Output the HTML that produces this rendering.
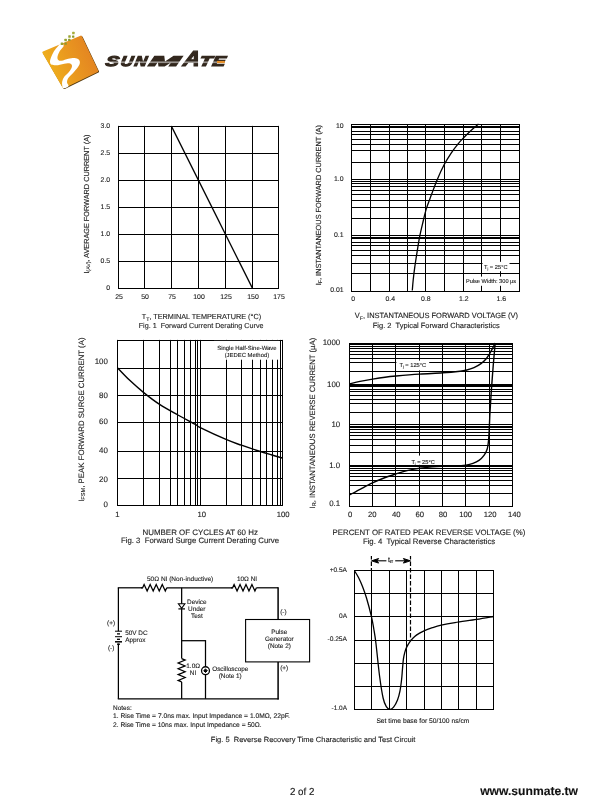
<!DOCTYPE html>
<html lang="en">
<head>
<meta charset="utf-8">
<title>SUNMATE datasheet - page 2 of 2</title>
<style>
html,body{margin:0;padding:0;background:#fff;}
body{width:610px;height:810px;overflow:hidden;position:relative;}
svg{position:absolute;left:0;top:0;display:block;}
svg text{font-family:"Liberation Sans",sans-serif;text-rendering:geometricPrecision;}
svg text.t{stroke:#222;stroke-width:0.12px;}
svg .g line, svg .g path, svg .g rect.o, svg .g polyline{stroke:#000;}
</style>
</head>
<body>
<svg width="610" height="810" viewBox="0 0 610 810">
<defs>
<linearGradient id="lg" gradientUnits="userSpaceOnUse" x1="44" y1="72" x2="98" y2="50">
<stop offset="0" stop-color="#f0b41c"/><stop offset="0.45" stop-color="#ea9a1f"/><stop offset="1" stop-color="#e27f22"/>
</linearGradient>
</defs>
<path d="M44.2 53.2 L81.6 37.3 L98.0 71.6 L64.3 87.9 Z" fill="#54390f" stroke="#54390f" stroke-width="2.2" stroke-linejoin="round"/>
<path d="M43.4 52.5 L80.9 36.7 L97.2 71.0 L63.6 87.2 Z" fill="url(#lg)" stroke="url(#lg)" stroke-width="2.2" stroke-linejoin="round"/>
<path d="M61.16 43.36 C60.25 43.38 59.41 44.62 58.18 46.00 C56.96 47.38 55.06 49.58 53.82 51.62 C52.58 53.67 51.35 56.50 50.72 58.28 C50.09 60.06 49.86 61.21 50.03 62.30 C50.21 63.39 50.43 64.34 51.75 64.82 C53.07 65.30 55.58 65.38 57.95 65.17 C60.32 64.95 63.98 63.85 65.98 63.56 C67.99 63.27 69.01 63.14 70.00 63.44 C71.00 63.75 71.76 64.50 71.95 65.39 C72.14 66.29 71.76 67.61 71.15 68.84 C70.54 70.06 69.43 71.40 68.28 72.74 C67.13 74.08 65.28 75.42 64.26 76.87 C63.25 78.32 62.52 79.97 62.20 81.46 C61.87 82.95 62.14 84.67 62.31 85.82 C62.48 86.97 62.20 88.27 63.23 88.35 C64.26 88.42 67.88 87.24 68.51 86.28 C69.14 85.32 67.06 83.99 67.02 82.61 C66.98 81.23 67.30 79.59 68.28 78.02 C69.26 76.45 71.24 75.03 72.87 73.20 C74.50 71.36 76.87 68.72 78.03 67.00 C79.20 65.28 79.76 64.11 79.87 62.87 C79.99 61.63 79.60 60.35 78.72 59.54 C77.84 58.74 76.33 58.17 74.59 58.05 C72.85 57.94 70.44 58.39 68.28 58.85 C66.12 59.31 63.29 60.61 61.62 60.80 C59.96 61.00 58.98 60.69 58.30 60.00 C57.61 59.31 57.24 58.18 57.49 56.67 C57.74 55.16 58.75 52.73 59.79 50.94 C60.82 49.14 63.46 47.15 63.69 45.89 C63.92 44.62 62.08 43.34 61.16 43.36Z" fill="#fff"/>
<rect x="60.65" y="42.45" width="2.50" height="2.50" rx="0.5" fill="#98a230"/>
<rect x="64.35" y="38.75" width="2.50" height="2.50" rx="0.5" fill="#98a230"/>
<rect x="68.25" y="35.15" width="2.50" height="2.50" rx="0.5" fill="#9ca534"/>
<rect x="72.15" y="31.65" width="2.50" height="2.50" rx="0.5" fill="#a8ad3c"/>
<rect x="64.45" y="42.55" width="2.30" height="2.30" rx="0.5" fill="#8e9a2c"/>
<rect x="68.15" y="38.75" width="2.30" height="2.30" rx="0.5" fill="#8e9a2c"/>
<rect x="72.05" y="35.45" width="2.30" height="2.30" rx="0.5" fill="#8e9a2c"/>
<g transform="translate(0 66.1) skewX(-10) translate(0 -66.1)"><text id="logo" y="66.1" font-weight="bold" font-style="italic" fill="#33281e" stroke="#33281e" stroke-width="1.2" stroke-linejoin="miter"><tspan x="104.9" textLength="13.2" lengthAdjust="spacingAndGlyphs" font-size="14.0">S</tspan><tspan x="120.0" textLength="12.4" lengthAdjust="spacingAndGlyphs" font-size="14.0">U</tspan><tspan x="134.0" textLength="12.2" lengthAdjust="spacingAndGlyphs" font-size="14.0">N</tspan><tspan x="148.2" textLength="31.0" lengthAdjust="spacingAndGlyphs" font-size="14.0">M</tspan><tspan x="182.4" textLength="16.6" lengthAdjust="spacingAndGlyphs" font-size="21.6">A</tspan><tspan x="198.8" textLength="12.4" lengthAdjust="spacingAndGlyphs" font-size="14.0">T</tspan><tspan x="211.8" textLength="13.0" lengthAdjust="spacingAndGlyphs" font-size="14.0">E</tspan></text></g>
<rect x="103" y="61.4" width="114" height="1.7" fill="#fff" opacity="0.5"/>
<rect x="217.0" y="60.9" width="7.8" height="2.2" fill="#e8902a"/>
<g class="g" fill="none">
<line x1="118.50" y1="125.90" x2="118.50" y2="288.90" stroke-width="1.00"/>
<line x1="144.50" y1="125.90" x2="144.50" y2="288.90" stroke-width="1.00"/>
<line x1="171.50" y1="125.90" x2="171.50" y2="288.90" stroke-width="1.00"/>
<line x1="198.50" y1="125.90" x2="198.50" y2="288.90" stroke-width="1.00"/>
<line x1="225.50" y1="125.90" x2="225.50" y2="288.90" stroke-width="1.00"/>
<line x1="252.50" y1="125.90" x2="252.50" y2="288.90" stroke-width="1.00"/>
<line x1="278.50" y1="125.90" x2="278.50" y2="288.90" stroke-width="1.00"/>
<line x1="118.00" y1="126.50" x2="278.90" y2="126.50" stroke-width="1.00"/>
<line x1="118.00" y1="153.50" x2="278.90" y2="153.50" stroke-width="1.00"/>
<line x1="118.00" y1="180.50" x2="278.90" y2="180.50" stroke-width="1.00"/>
<line x1="118.00" y1="207.50" x2="278.90" y2="207.50" stroke-width="1.00"/>
<line x1="118.00" y1="234.50" x2="278.90" y2="234.50" stroke-width="1.00"/>
<line x1="118.00" y1="261.50" x2="278.90" y2="261.50" stroke-width="1.00"/>
<line x1="118.00" y1="288.50" x2="278.90" y2="288.50" stroke-width="1.00"/>
<path d="M171.50 126.40 L252.50 288.40" stroke-width="1.30" fill="none"/>
</g>
<text class="t" id="t1" x="110.20" y="128.00" font-size="6.900" text-anchor="end" fill="#1c1c1c">3.0</text>
<text class="t" id="t2" x="110.20" y="155.00" font-size="6.900" text-anchor="end" fill="#1c1c1c">2.5</text>
<text class="t" id="t3" x="110.20" y="182.00" font-size="6.900" text-anchor="end" fill="#1c1c1c">2.0</text>
<text class="t" id="t4" x="110.20" y="209.00" font-size="6.900" text-anchor="end" fill="#1c1c1c">1.5</text>
<text class="t" id="t5" x="110.20" y="236.00" font-size="6.900" text-anchor="end" fill="#1c1c1c">1.0</text>
<text class="t" id="t6" x="110.20" y="263.00" font-size="6.900" text-anchor="end" fill="#1c1c1c">0.5</text>
<text class="t" id="t7" x="110.20" y="290.00" font-size="6.900" text-anchor="end" fill="#1c1c1c">0</text>
<text class="t" id="t8" x="119.00" y="298.60" font-size="6.900" text-anchor="middle" fill="#1c1c1c">25</text>
<text class="t" id="t9" x="145.00" y="298.60" font-size="6.900" text-anchor="middle" fill="#1c1c1c">50</text>
<text class="t" id="t10" x="172.00" y="298.60" font-size="6.900" text-anchor="middle" fill="#1c1c1c">75</text>
<text class="t" id="t11" x="199.00" y="298.60" font-size="6.900" text-anchor="middle" fill="#1c1c1c">100</text>
<text class="t" id="t12" x="226.00" y="298.60" font-size="6.900" text-anchor="middle" fill="#1c1c1c">125</text>
<text class="t" id="t13" x="253.00" y="298.60" font-size="6.900" text-anchor="middle" fill="#1c1c1c">150</text>
<text class="t" id="t14" x="279.00" y="298.60" font-size="6.900" text-anchor="middle" fill="#1c1c1c">175</text>
<text class="t" id="t15" x="88.60" y="273.60" font-size="7.316" transform="rotate(-90 88.60 273.60)" fill="#1c1c1c">I<tspan dy="1.60" font-size="5.20">(AV)</tspan><tspan dy="-1.60">, AVERAGE FORWARD CURRENT (A)</tspan></text>
<text class="t" id="t16" x="141.80" y="318.90" font-size="7.272" fill="#1c1c1c">T<tspan dy="1.60" font-size="5.20">T</tspan><tspan dy="-1.60">, TERMINAL TEMPERATURE (°C)</tspan></text>
<text class="t" id="t17" x="138.70" y="327.50" font-size="7.216" fill="#1c1c1c" style="white-space:pre">Fig. 1  Forward Current Derating Curve</text>
<g class="g" fill="none">
<line x1="351.50" y1="124.00" x2="351.50" y2="292.00" stroke-width="1.00"/>
<line x1="370.50" y1="124.00" x2="370.50" y2="292.00" stroke-width="1.00"/>
<line x1="389.50" y1="124.00" x2="389.50" y2="292.00" stroke-width="1.00"/>
<line x1="407.50" y1="124.00" x2="407.50" y2="292.00" stroke-width="1.00"/>
<line x1="425.50" y1="124.00" x2="425.50" y2="292.00" stroke-width="1.00"/>
<line x1="444.50" y1="124.00" x2="444.50" y2="292.00" stroke-width="1.00"/>
<line x1="463.50" y1="124.00" x2="463.50" y2="292.00" stroke-width="1.00"/>
<line x1="481.50" y1="124.00" x2="481.50" y2="292.00" stroke-width="1.00"/>
<line x1="500.50" y1="124.00" x2="500.50" y2="292.00" stroke-width="1.00"/>
<line x1="519.50" y1="124.00" x2="519.50" y2="292.00" stroke-width="1.00"/>
<line x1="351.00" y1="124.50" x2="520.00" y2="124.50" stroke-width="1.00"/>
<line x1="351.00" y1="127.00" x2="520.00" y2="127.00" stroke-width="2.00"/>
<line x1="351.00" y1="131.50" x2="520.00" y2="131.50" stroke-width="1.00"/>
<line x1="351.00" y1="134.50" x2="520.00" y2="134.50" stroke-width="1.00"/>
<line x1="351.00" y1="139.50" x2="520.00" y2="139.50" stroke-width="1.00"/>
<line x1="351.00" y1="144.50" x2="520.00" y2="144.50" stroke-width="1.00"/>
<line x1="351.00" y1="150.50" x2="520.00" y2="150.50" stroke-width="1.00"/>
<line x1="351.00" y1="162.50" x2="520.00" y2="162.50" stroke-width="1.00"/>
<line x1="351.00" y1="179.50" x2="520.00" y2="179.50" stroke-width="1.00"/>
<line x1="351.00" y1="181.50" x2="520.00" y2="181.50" stroke-width="1.00"/>
<line x1="351.00" y1="183.50" x2="520.00" y2="183.50" stroke-width="1.00"/>
<line x1="351.00" y1="186.50" x2="520.00" y2="186.50" stroke-width="1.00"/>
<line x1="351.00" y1="190.50" x2="520.00" y2="190.50" stroke-width="1.00"/>
<line x1="351.00" y1="194.50" x2="520.00" y2="194.50" stroke-width="1.00"/>
<line x1="351.00" y1="200.50" x2="520.00" y2="200.50" stroke-width="1.00"/>
<line x1="351.00" y1="207.50" x2="520.00" y2="207.50" stroke-width="1.00"/>
<line x1="351.00" y1="218.50" x2="520.00" y2="218.50" stroke-width="1.00"/>
<line x1="351.00" y1="235.50" x2="520.00" y2="235.50" stroke-width="1.00"/>
<line x1="351.00" y1="238.00" x2="520.00" y2="238.00" stroke-width="2.00"/>
<line x1="351.00" y1="242.50" x2="520.00" y2="242.50" stroke-width="1.00"/>
<line x1="351.00" y1="245.50" x2="520.00" y2="245.50" stroke-width="1.00"/>
<line x1="351.00" y1="250.50" x2="520.00" y2="250.50" stroke-width="1.00"/>
<line x1="351.00" y1="255.50" x2="520.00" y2="255.50" stroke-width="1.00"/>
<line x1="351.00" y1="263.50" x2="520.00" y2="263.50" stroke-width="1.00"/>
<line x1="351.00" y1="273.50" x2="520.00" y2="273.50" stroke-width="1.00"/>
<line x1="351.00" y1="291.50" x2="520.00" y2="291.50" stroke-width="1.00"/>
</g>
<rect x="482.50" y="261.80" width="27.00" height="9.40" fill="#fff" stroke="none"/>
<rect x="456.20" y="276.60" width="6.60" height="9.20" fill="#fff" stroke="none"/>
<rect x="464.30" y="276.60" width="53.40" height="9.20" fill="#fff" stroke="none"/>
<text class="t" id="t18" x="484.00" y="268.60" font-size="5.729" fill="#1c1c1c">T<tspan dy="1.00" font-size="3.40">j</tspan><tspan dy="-1.00"> = 25°C</tspan></text>
<text class="t" id="t19" x="465.90" y="283.00" font-size="5.651" fill="#1c1c1c">Pulse Width: 300 µs</text>
<g class="g" fill="none">
<path d="M412.30 290.50 C412.45 288.75 412.78 283.93 413.20 280.00 C413.62 276.07 414.05 272.20 414.80 266.90 C415.55 261.60 416.88 253.28 417.70 248.20 C418.52 243.12 418.88 240.50 419.70 236.40 C420.52 232.30 421.50 228.18 422.60 223.60 C423.70 219.02 424.82 213.73 426.30 208.90 C427.78 204.07 429.68 199.47 431.50 194.60 C433.32 189.73 435.10 184.67 437.20 179.70 C439.30 174.73 441.80 169.20 444.10 164.80 C446.40 160.40 448.70 156.75 451.00 153.30 C453.30 149.85 455.83 146.65 457.90 144.10 C459.97 141.55 461.30 140.18 463.40 138.00 C465.50 135.82 467.98 133.33 470.50 131.00 C473.02 128.67 477.17 125.17 478.50 124.00" stroke-width="1.30" fill="none"/>
</g>
<text class="t" id="t20" x="343.60" y="127.80" font-size="6.900" text-anchor="end" fill="#1c1c1c">10</text>
<text class="t" id="t21" x="343.60" y="181.20" font-size="6.900" text-anchor="end" fill="#1c1c1c">1.0</text>
<text class="t" id="t22" x="343.60" y="236.80" font-size="6.900" text-anchor="end" fill="#1c1c1c">0.1</text>
<text class="t" id="t23" x="343.60" y="291.50" font-size="6.900" text-anchor="end" fill="#1c1c1c">0.01</text>
<text class="t" id="t24" x="353.10" y="300.80" font-size="6.900" text-anchor="middle" fill="#1c1c1c">0</text>
<text class="t" id="t25" x="390.20" y="300.80" font-size="6.900" text-anchor="middle" fill="#1c1c1c">0.4</text>
<text class="t" id="t26" x="425.90" y="300.80" font-size="6.900" text-anchor="middle" fill="#1c1c1c">0.8</text>
<text class="t" id="t27" x="463.90" y="300.80" font-size="6.900" text-anchor="middle" fill="#1c1c1c">1.2</text>
<text class="t" id="t28" x="501.30" y="300.80" font-size="6.900" text-anchor="middle" fill="#1c1c1c">1.6</text>
<text class="t" id="t29" x="320.60" y="285.20" font-size="7.361" transform="rotate(-90 320.60 285.20)" fill="#1c1c1c">I<tspan dy="1.60" font-size="5.20">F</tspan><tspan dy="-1.60">, INSTANTANEOUS FORWARD CURRENT (A)</tspan></text>
<text class="t" id="t30" x="354.80" y="318.10" font-size="7.481" fill="#1c1c1c">V<tspan dy="1.60" font-size="5.20">F</tspan><tspan dy="-1.60">, INSTANTANEOUS FORWARD VOLTAGE (V)</tspan></text>
<text class="t" id="t31" x="372.80" y="327.50" font-size="7.478" fill="#1c1c1c" style="white-space:pre">Fig. 2  Typical Forward Characteristics</text>
<g class="g" fill="none">
<line x1="117.50" y1="339.90" x2="117.50" y2="505.90" stroke-width="1.00"/>
<line x1="143.50" y1="339.90" x2="143.50" y2="505.90" stroke-width="1.00"/>
<line x1="159.50" y1="339.90" x2="159.50" y2="505.90" stroke-width="1.00"/>
<line x1="170.50" y1="339.90" x2="170.50" y2="505.90" stroke-width="1.00"/>
<line x1="177.50" y1="339.90" x2="177.50" y2="505.90" stroke-width="1.00"/>
<line x1="184.50" y1="339.90" x2="184.50" y2="505.90" stroke-width="1.00"/>
<line x1="190.50" y1="339.90" x2="190.50" y2="505.90" stroke-width="1.00"/>
<line x1="195.50" y1="339.90" x2="195.50" y2="505.90" stroke-width="1.00"/>
<line x1="197.50" y1="339.90" x2="197.50" y2="505.90" stroke-width="1.00"/>
<line x1="200.50" y1="339.90" x2="200.50" y2="505.90" stroke-width="1.00"/>
<line x1="226.50" y1="339.90" x2="226.50" y2="505.90" stroke-width="1.00"/>
<line x1="241.50" y1="339.90" x2="241.50" y2="505.90" stroke-width="1.00"/>
<line x1="252.50" y1="339.90" x2="252.50" y2="505.90" stroke-width="1.00"/>
<line x1="260.50" y1="339.90" x2="260.50" y2="505.90" stroke-width="1.00"/>
<line x1="266.50" y1="339.90" x2="266.50" y2="505.90" stroke-width="1.00"/>
<line x1="272.50" y1="339.90" x2="272.50" y2="505.90" stroke-width="1.00"/>
<line x1="277.50" y1="339.90" x2="277.50" y2="505.90" stroke-width="1.00"/>
<line x1="280.50" y1="339.90" x2="280.50" y2="505.90" stroke-width="1.00"/>
<line x1="282.50" y1="339.90" x2="282.50" y2="505.90" stroke-width="1.00"/>
<line x1="117.20" y1="340.50" x2="282.80" y2="340.50" stroke-width="1.00"/>
<line x1="117.20" y1="368.50" x2="282.80" y2="368.50" stroke-width="1.00"/>
<line x1="117.20" y1="395.50" x2="282.80" y2="395.50" stroke-width="1.00"/>
<line x1="117.20" y1="422.50" x2="282.80" y2="422.50" stroke-width="1.00"/>
<line x1="117.20" y1="451.50" x2="282.80" y2="451.50" stroke-width="1.00"/>
<line x1="117.20" y1="478.50" x2="282.80" y2="478.50" stroke-width="1.00"/>
<line x1="117.20" y1="505.50" x2="282.80" y2="505.50" stroke-width="1.00"/>
</g>
<rect x="214.00" y="340.90" width="65.20" height="18.80" fill="#fff" stroke="none"/>
<text class="t" id="t32" x="246.90" y="349.60" font-size="5.936" text-anchor="middle" fill="#1c1c1c">Single Half-Sine-Wave</text>
<text class="t" id="t33" x="246.90" y="356.60" font-size="5.906" text-anchor="middle" fill="#1c1c1c">(JEDEC Method)</text>
<g class="g" fill="none">
<path d="M117.70 368.00 C119.75 370.10 125.67 376.50 130.00 380.60 C134.33 384.70 138.77 388.63 143.70 392.60 C148.63 396.57 153.90 400.67 159.60 404.40 C165.30 408.13 171.93 411.67 177.90 415.00 C183.87 418.33 191.67 422.30 195.40 424.40 C199.13 426.50 195.10 425.05 200.30 427.60 C205.50 430.15 219.75 436.77 226.60 439.70 C233.45 442.63 235.78 443.23 241.40 445.20 C247.02 447.17 255.20 449.87 260.30 451.50 C265.40 453.13 268.33 453.92 272.00 455.00 C275.67 456.08 280.58 457.50 282.30 458.00" stroke-width="1.40" fill="none"/>
</g>
<text class="t" id="t34" x="107.90" y="364.00" font-size="7.900" text-anchor="end" fill="#1c1c1c">100</text>
<text class="t" id="t35" x="107.90" y="398.00" font-size="7.900" text-anchor="end" fill="#1c1c1c">80</text>
<text class="t" id="t36" x="107.90" y="424.10" font-size="7.900" text-anchor="end" fill="#1c1c1c">60</text>
<text class="t" id="t37" x="107.90" y="453.00" font-size="7.900" text-anchor="end" fill="#1c1c1c">40</text>
<text class="t" id="t38" x="107.90" y="482.20" font-size="7.900" text-anchor="end" fill="#1c1c1c">20</text>
<text class="t" id="t39" x="107.90" y="507.20" font-size="7.900" text-anchor="end" fill="#1c1c1c">0</text>
<text class="t" id="t40" x="117.40" y="517.20" font-size="7.700" text-anchor="middle" fill="#1c1c1c">1</text>
<text class="t" id="t41" x="201.70" y="517.20" font-size="7.700" text-anchor="middle" fill="#1c1c1c">10</text>
<text class="t" id="t42" x="283.20" y="517.20" font-size="7.700" text-anchor="middle" fill="#1c1c1c">100</text>
<text class="t" id="t43" x="83.70" y="501.80" font-size="7.830" transform="rotate(-90 83.70 501.80)" fill="#1c1c1c">I<tspan dy="1.60" font-size="5.60">FSM</tspan><tspan dy="-1.60">, PEAK FORWARD SURGE CURRENT (A)</tspan></text>
<text class="t" id="t44" x="142.60" y="535.00" font-size="7.928" fill="#1c1c1c">NUMBER OF CYCLES AT 60 Hz</text>
<text class="t" id="t45" x="120.90" y="543.40" font-size="7.812" fill="#1c1c1c" style="white-space:pre">Fig. 3  Forward Surge Current Derating Curve</text>
<g class="g" fill="none">
<line x1="349.50" y1="343.00" x2="349.50" y2="507.00" stroke-width="1.00"/>
<line x1="372.50" y1="343.00" x2="372.50" y2="507.00" stroke-width="1.00"/>
<line x1="395.50" y1="343.00" x2="395.50" y2="507.00" stroke-width="1.00"/>
<line x1="419.50" y1="343.00" x2="419.50" y2="507.00" stroke-width="1.00"/>
<line x1="442.50" y1="343.00" x2="442.50" y2="507.00" stroke-width="1.00"/>
<line x1="465.50" y1="343.00" x2="465.50" y2="507.00" stroke-width="1.00"/>
<line x1="489.50" y1="343.00" x2="489.50" y2="507.00" stroke-width="1.00"/>
<line x1="512.50" y1="343.00" x2="512.50" y2="507.00" stroke-width="1.00"/>
<line x1="349.00" y1="344.00" x2="513.00" y2="344.00" stroke-width="2.00"/>
<line x1="349.00" y1="346.50" x2="513.00" y2="346.50" stroke-width="1.00"/>
<line x1="349.00" y1="348.50" x2="513.00" y2="348.50" stroke-width="1.00"/>
<line x1="349.00" y1="351.50" x2="513.00" y2="351.50" stroke-width="1.00"/>
<line x1="349.00" y1="354.50" x2="513.00" y2="354.50" stroke-width="1.00"/>
<line x1="349.00" y1="358.50" x2="513.00" y2="358.50" stroke-width="1.00"/>
<line x1="349.00" y1="362.50" x2="513.00" y2="362.50" stroke-width="1.00"/>
<line x1="349.00" y1="371.50" x2="513.00" y2="371.50" stroke-width="1.00"/>
<line x1="349.00" y1="385.50" x2="513.00" y2="385.50" stroke-width="3.00"/>
<line x1="349.00" y1="389.50" x2="513.00" y2="389.50" stroke-width="1.00"/>
<line x1="349.00" y1="391.50" x2="513.00" y2="391.50" stroke-width="1.00"/>
<line x1="349.00" y1="395.50" x2="513.00" y2="395.50" stroke-width="1.00"/>
<line x1="349.00" y1="399.50" x2="513.00" y2="399.50" stroke-width="1.00"/>
<line x1="349.00" y1="403.50" x2="513.00" y2="403.50" stroke-width="1.00"/>
<line x1="349.00" y1="412.50" x2="513.00" y2="412.50" stroke-width="1.00"/>
<line x1="349.00" y1="424.50" x2="513.00" y2="424.50" stroke-width="1.00"/>
<line x1="349.00" y1="427.00" x2="513.00" y2="427.00" stroke-width="2.00"/>
<line x1="349.00" y1="429.50" x2="513.00" y2="429.50" stroke-width="1.00"/>
<line x1="349.00" y1="432.50" x2="513.00" y2="432.50" stroke-width="1.00"/>
<line x1="349.00" y1="435.50" x2="513.00" y2="435.50" stroke-width="1.00"/>
<line x1="349.00" y1="439.50" x2="513.00" y2="439.50" stroke-width="1.00"/>
<line x1="349.00" y1="445.50" x2="513.00" y2="445.50" stroke-width="1.00"/>
<line x1="349.00" y1="452.50" x2="513.00" y2="452.50" stroke-width="1.00"/>
<line x1="349.00" y1="466.00" x2="513.00" y2="466.00" stroke-width="2.00"/>
<line x1="349.00" y1="468.50" x2="513.00" y2="468.50" stroke-width="1.00"/>
<line x1="349.00" y1="470.50" x2="513.00" y2="470.50" stroke-width="1.00"/>
<line x1="349.00" y1="473.50" x2="513.00" y2="473.50" stroke-width="1.00"/>
<line x1="349.00" y1="476.50" x2="513.00" y2="476.50" stroke-width="1.00"/>
<line x1="349.00" y1="480.50" x2="513.00" y2="480.50" stroke-width="1.00"/>
<line x1="349.00" y1="485.50" x2="513.00" y2="485.50" stroke-width="1.00"/>
<line x1="349.00" y1="493.50" x2="513.00" y2="493.50" stroke-width="1.00"/>
<line x1="349.00" y1="506.50" x2="513.00" y2="506.50" stroke-width="1.00"/>
</g>
<rect x="396.40" y="360.60" width="32.80" height="9.80" fill="#fff" stroke="none"/>
<text class="t" id="t46" x="399.40" y="367.10" font-size="5.722" fill="#1c1c1c">T<tspan dy="1.00" font-size="3.60">j</tspan><tspan dy="-1.00"> = 125°C</tspan></text>
<rect x="409.70" y="455.60" width="26.60" height="9.20" fill="#fff" stroke="none"/>
<text class="t" id="t47" x="411.40" y="464.20" font-size="5.689" fill="#1c1c1c">T<tspan dy="1.00" font-size="3.40">j</tspan><tspan dy="-1.00"> = 25°C</tspan></text>
<g class="g" fill="none">
<line x1="349.50" y1="466.00" x2="512.50" y2="466.00" stroke-width="2.00"/>
<path d="M349.70 383.80 C351.42 383.40 356.18 382.18 360.00 381.40 C363.82 380.62 368.43 379.80 372.60 379.10 C376.77 378.40 381.07 377.72 385.00 377.20 C388.93 376.68 390.45 376.52 396.20 376.00 C401.95 375.48 411.75 374.63 419.50 374.10 C427.25 373.57 435.95 373.28 442.70 372.80 C449.45 372.32 456.12 371.63 460.00 371.20 C463.88 370.77 463.67 370.80 466.00 370.20 C468.33 369.60 471.50 368.70 474.00 367.60 C476.50 366.50 479.00 365.03 481.00 363.60 C483.00 362.17 484.58 360.60 486.00 359.00 C487.42 357.40 488.42 355.75 489.50 354.00 C490.58 352.25 491.55 350.33 492.50 348.50 C493.45 346.67 494.75 343.92 495.20 343.00" stroke-width="1.40" fill="none"/>
<path d="M349.50 495.00 C351.42 493.97 357.17 490.82 361.00 488.80 C364.83 486.78 368.67 484.70 372.50 482.90 C376.33 481.10 380.15 479.47 384.00 478.00 C387.85 476.53 391.77 475.33 395.60 474.10 C399.43 472.87 403.00 471.58 407.00 470.60 C411.00 469.62 415.43 468.82 419.60 468.20 C423.77 467.58 428.23 467.20 432.00 466.90 C435.77 466.60 438.37 466.52 442.20 466.40 C446.03 466.28 451.03 466.40 455.00 466.20 C458.97 466.00 463.00 465.67 466.00 465.20 C469.00 464.73 470.83 464.20 473.00 463.40 C475.17 462.60 477.17 461.73 479.00 460.40 C480.83 459.07 482.63 457.30 484.00 455.40 C485.37 453.50 486.43 451.57 487.20 449.00 C487.97 446.43 488.25 443.50 488.60 440.00 C488.95 436.50 489.07 432.67 489.30 428.00 C489.53 423.33 489.65 418.33 490.00 412.00 C490.35 405.67 490.87 397.67 491.40 390.00 C491.93 382.33 492.57 373.83 493.20 366.00 C493.83 358.17 494.87 346.83 495.20 343.00" stroke-width="1.40" fill="none"/>
</g>
<text class="t" id="t48" x="340.20" y="345.20" font-size="7.900" text-anchor="end" fill="#1c1c1c">1000</text>
<text class="t" id="t49" x="340.20" y="387.20" font-size="7.900" text-anchor="end" fill="#1c1c1c">100</text>
<text class="t" id="t50" x="340.20" y="427.20" font-size="7.900" text-anchor="end" fill="#1c1c1c">10</text>
<text class="t" id="t51" x="340.20" y="467.80" font-size="7.900" text-anchor="end" fill="#1c1c1c">1.0</text>
<text class="t" id="t52" x="340.20" y="506.10" font-size="7.900" text-anchor="end" fill="#1c1c1c">0.1</text>
<text class="t" id="t53" x="350.10" y="517.30" font-size="7.700" text-anchor="middle" fill="#1c1c1c">0</text>
<text class="t" id="t54" x="372.20" y="517.30" font-size="7.700" text-anchor="middle" fill="#1c1c1c">20</text>
<text class="t" id="t55" x="396.30" y="517.30" font-size="7.700" text-anchor="middle" fill="#1c1c1c">40</text>
<text class="t" id="t56" x="419.70" y="517.30" font-size="7.700" text-anchor="middle" fill="#1c1c1c">60</text>
<text class="t" id="t57" x="443.10" y="517.30" font-size="7.700" text-anchor="middle" fill="#1c1c1c">80</text>
<text class="t" id="t58" x="465.60" y="517.30" font-size="7.700" text-anchor="middle" fill="#1c1c1c">100</text>
<text class="t" id="t59" x="490.20" y="517.30" font-size="7.700" text-anchor="middle" fill="#1c1c1c">120</text>
<text class="t" id="t60" x="514.30" y="517.30" font-size="7.700" text-anchor="middle" fill="#1c1c1c">140</text>
<text class="t" id="t61" x="314.60" y="508.40" font-size="7.721" transform="rotate(-90 314.60 508.40)" fill="#1c1c1c">I<tspan dy="1.60" font-size="5.60">R</tspan><tspan dy="-1.60">, INSTANTANEOUS REVERSE CURRENT (µA)</tspan></text>
<text class="t" id="t62" x="332.60" y="535.30" font-size="7.804" fill="#1c1c1c">PERCENT OF RATED PEAK REVERSE VOLTAGE (%)</text>
<text class="t" id="t63" x="362.90" y="543.50" font-size="7.785" fill="#1c1c1c" style="white-space:pre">Fig. 4  Typical Reverse Characteristics</text>
<g class="g" fill="none" stroke-linejoin="miter">
<line x1="117.78" y1="587.80" x2="142.60" y2="587.80" stroke-width="1.25"/>
<path d="M141.10 587.80 L142.60 587.80 L144.11 584.50 L147.14 591.10 L150.16 584.50 L153.19 591.10 L156.21 584.50 L159.24 591.10 L162.26 584.50 L165.29 591.10 L166.80 587.80" stroke-width="1.25" fill="none"/>
<line x1="166.80" y1="587.80" x2="232.60" y2="587.80" stroke-width="1.25"/>
<path d="M231.10 587.80 L232.60 587.80 L234.09 584.50 L237.06 591.10 L240.04 584.50 L243.01 591.10 L245.99 584.50 L248.96 591.10 L251.94 584.50 L254.91 591.10 L256.40 587.80" stroke-width="1.25" fill="none"/>
<line x1="256.40" y1="587.80" x2="278.10" y2="587.80" stroke-width="1.25"/>
<line x1="118.40" y1="587.80" x2="118.40" y2="631.20" stroke-width="1.25"/>
<line x1="118.40" y1="643.60" x2="118.40" y2="698.80" stroke-width="1.25"/>
<line x1="115.00" y1="631.20" x2="122.00" y2="631.20" stroke-width="1.00"/>
<line x1="117.00" y1="633.90" x2="120.00" y2="633.90" stroke-width="1.30"/>
<line x1="115.00" y1="636.70" x2="122.00" y2="636.70" stroke-width="1.00"/>
<line x1="117.00" y1="639.30" x2="120.00" y2="639.30" stroke-width="1.30"/>
<line x1="115.00" y1="641.80" x2="122.00" y2="641.80" stroke-width="1.50"/>
<line x1="117.00" y1="644.20" x2="120.00" y2="644.20" stroke-width="1.30"/>
<line x1="117.78" y1="698.80" x2="278.70" y2="698.80" stroke-width="1.25"/>
<line x1="181.65" y1="587.80" x2="181.65" y2="603.70" stroke-width="1.25"/>
<line x1="181.65" y1="608.80" x2="181.65" y2="658.60" stroke-width="1.25"/>
<path d="M178.4 603.8 L184.9 603.8 L181.65 608.4 Z" stroke-width="1.10" fill="none"/>
<line x1="178.40" y1="608.90" x2="185.00" y2="608.90" stroke-width="1.20"/>
<path d="M181.65 658.60 L185.15 660.06 L178.15 662.97 L185.15 665.88 L178.15 668.79 L185.15 671.71 L178.15 674.62 L185.15 677.53 L178.15 680.44 L181.65 681.90" stroke-width="1.25" fill="none"/>
<line x1="181.65" y1="681.90" x2="181.65" y2="698.80" stroke-width="1.25"/>
<line x1="181.65" y1="640.70" x2="205.50" y2="640.70" stroke-width="1.25"/>
<line x1="205.50" y1="640.08" x2="205.50" y2="698.80" stroke-width="1.25"/>
<circle cx="205.5" cy="670.7" r="3.95" fill="#fff" stroke="#000" stroke-width="1.3"/>
<path d="M205.5 668.9 L207.3 670.7 L205.5 672.5 L203.7 670.7 Z" fill="#000" stroke="none"/>
<line x1="278.10" y1="587.17" x2="278.10" y2="619.50" stroke-width="1.50"/>
<line x1="278.10" y1="662.00" x2="278.10" y2="699.42" stroke-width="1.50"/>
<rect class="o" x="245.6" y="619.5" width="64.0" height="42.4" fill="none" stroke-width="1.1"/>
</g>
<text class="t" id="t64" x="147.00" y="580.90" font-size="6.500" fill="#1c1c1c">50Ω NI (Non-inductive)</text>
<text class="t" id="t65" x="237.00" y="580.80" font-size="6.400" fill="#1c1c1c">10Ω NI</text>
<text class="t" id="t66" x="196.80" y="603.90" font-size="6.400" text-anchor="middle" fill="#1c1c1c">Device</text>
<text class="t" id="t67" x="196.80" y="610.90" font-size="6.400" text-anchor="middle" fill="#1c1c1c">Under</text>
<text class="t" id="t68" x="196.90" y="618.20" font-size="6.400" text-anchor="middle" fill="#1c1c1c">Test</text>
<text class="t" id="t69" x="111.10" y="625.20" font-size="6.400" text-anchor="middle" fill="#1c1c1c">(+)</text>
<text class="t" id="t70" x="111.10" y="650.20" font-size="6.400" text-anchor="middle" fill="#1c1c1c">(-)</text>
<text class="t" id="t71" x="125.20" y="634.90" font-size="6.400" fill="#1c1c1c">50V DC</text>
<text class="t" id="t72" x="125.20" y="641.70" font-size="6.400" fill="#1c1c1c">Approx</text>
<text class="t" id="t73" x="186.30" y="667.90" font-size="6.400" fill="#1c1c1c">1.0Ω</text>
<text class="t" id="t74" x="193.00" y="674.60" font-size="6.400" text-anchor="middle" fill="#1c1c1c">NI</text>
<text class="t" id="t75" x="212.20" y="670.90" font-size="6.400" fill="#1c1c1c">Oscilloscope</text>
<text class="t" id="t76" x="230.20" y="677.80" font-size="6.400" text-anchor="middle" fill="#1c1c1c">(Note 1)</text>
<text class="t" id="t77" x="283.40" y="614.40" font-size="6.400" text-anchor="middle" fill="#1c1c1c">(-)</text>
<text class="t" id="t78" x="284.20" y="670.30" font-size="6.400" text-anchor="middle" fill="#1c1c1c">(+)</text>
<text class="t" id="t79" x="279.30" y="633.90" font-size="6.400" text-anchor="middle" fill="#1c1c1c">Pulse</text>
<text class="t" id="t80" x="279.30" y="641.00" font-size="6.400" text-anchor="middle" fill="#1c1c1c">Generator</text>
<text class="t" id="t81" x="279.30" y="648.00" font-size="6.400" text-anchor="middle" fill="#1c1c1c">(Note 2)</text>
<text class="t" id="t82" x="113.10" y="710.30" font-size="6.448" fill="#1c1c1c">Notes:</text>
<text class="t" id="t83" x="113.10" y="718.20" font-size="6.702" fill="#1c1c1c">1. Rise Time = 7.0ns max. Input Impedance = 1.0MΩ, 22pF.</text>
<text class="t" id="t84" x="113.10" y="726.50" font-size="6.673" fill="#1c1c1c">2. Rise Time = 10ns max. Input Impedance = 50Ω.</text>
<g class="g" fill="none">
<line x1="354.50" y1="570.00" x2="354.50" y2="710.00" stroke-width="1.00"/>
<line x1="371.50" y1="570.00" x2="371.50" y2="710.00" stroke-width="1.00"/>
<line x1="389.50" y1="570.00" x2="389.50" y2="710.00" stroke-width="1.00"/>
<line x1="406.50" y1="570.00" x2="406.50" y2="710.00" stroke-width="1.00"/>
<line x1="424.50" y1="570.00" x2="424.50" y2="710.00" stroke-width="1.00"/>
<line x1="441.50" y1="570.00" x2="441.50" y2="710.00" stroke-width="1.00"/>
<line x1="458.50" y1="570.00" x2="458.50" y2="710.00" stroke-width="1.00"/>
<line x1="476.50" y1="570.00" x2="476.50" y2="710.00" stroke-width="1.00"/>
<line x1="493.50" y1="570.00" x2="493.50" y2="710.00" stroke-width="1.00"/>
<line x1="354.00" y1="570.50" x2="494.00" y2="570.50" stroke-width="1.00"/>
<line x1="354.00" y1="593.50" x2="494.00" y2="593.50" stroke-width="1.00"/>
<line x1="354.00" y1="616.50" x2="494.00" y2="616.50" stroke-width="1.00"/>
<line x1="354.00" y1="640.50" x2="494.00" y2="640.50" stroke-width="1.00"/>
<line x1="354.00" y1="663.50" x2="494.00" y2="663.50" stroke-width="1.00"/>
<line x1="354.00" y1="686.50" x2="494.00" y2="686.50" stroke-width="1.00"/>
<line x1="354.00" y1="709.50" x2="494.00" y2="709.50" stroke-width="1.00"/>
<line x1="371.40" y1="556.00" x2="371.40" y2="571.00" stroke-width="1.20" stroke-dasharray="3.4 2 4.5 2 4.5 2"/>
<line x1="410.50" y1="556.00" x2="410.50" y2="639.80" stroke-width="1.20" stroke-dasharray="3.4 2 4.5 2 4.5 2 4.5 2 4.5 2 4.5 2 4.5 2 4.5 2 4.5 2 4.5 2 4.5 2 4.5 2 4.5 2 4.5 2"/>
<line x1="376.50" y1="560.80" x2="386.40" y2="560.80" stroke-width="1.10"/>
<line x1="395.20" y1="560.80" x2="405.20" y2="560.80" stroke-width="1.10"/>
<path d="M371.6 560.8 L378.6 558.5 L376.9 560.8 L378.6 563.1 Z" fill="#000" stroke="none"/>
<path d="M410.4 560.8 L403.4 558.5 L405.1 560.8 L403.4 563.1 Z" fill="#000" stroke="none"/>
<path d="M354.50 570.80 C355.17 571.92 357.17 574.88 358.50 577.50 C359.83 580.12 361.17 583.08 362.50 586.50 C363.83 589.92 365.02 593.02 366.50 598.00 C367.98 602.98 370.18 611.23 371.40 616.40 C372.62 621.57 373.05 624.57 373.80 629.00 C374.55 633.43 374.95 635.25 375.90 643.00 C376.85 650.75 378.30 666.33 379.50 675.50 C380.70 684.67 381.97 692.82 383.10 698.00 C384.23 703.18 385.15 704.70 386.30 706.60 C387.45 708.50 388.78 709.30 390.00 709.40 C391.22 709.50 392.35 708.77 393.60 707.20 C394.85 705.63 396.43 702.73 397.50 700.00 C398.57 697.27 399.32 694.22 400.00 690.80 C400.68 687.38 401.20 682.97 401.60 679.50 C402.00 676.03 402.10 673.38 402.40 670.00 C402.70 666.62 403.00 662.15 403.40 659.20 C403.80 656.25 404.23 654.35 404.80 652.30 C405.37 650.25 405.90 648.73 406.80 646.90 C407.70 645.07 408.88 643.03 410.20 641.30 C411.52 639.57 413.13 637.87 414.70 636.50 C416.27 635.13 417.97 634.08 419.60 633.10 C421.23 632.12 422.37 631.50 424.50 630.60 C426.63 629.70 429.62 628.60 432.40 627.70 C435.18 626.80 437.43 626.05 441.20 625.20 C444.97 624.35 449.10 623.57 455.00 622.60 C460.90 621.63 470.18 620.42 476.60 619.40 C483.02 618.38 490.68 616.98 493.50 616.50" stroke-width="1.30" fill="none"/>
</g>
<text class="t" id="t85" x="388.00" y="561.70" font-size="7.000" fill="#1c1c1c" style="stroke-width:0.2px">t<tspan dy="0.90" font-size="4.80">rr</tspan><tspan dy="-0.90"></tspan></text>
<text class="t" id="t86" x="347.00" y="572.00" font-size="6.595" text-anchor="end" fill="#1c1c1c">+0.5A</text>
<text class="t" id="t87" x="347.00" y="618.20" font-size="6.551" text-anchor="end" fill="#1c1c1c">0A</text>
<text class="t" id="t88" x="347.00" y="640.90" font-size="6.658" text-anchor="end" fill="#1c1c1c">-0.25A</text>
<text class="t" id="t89" x="347.00" y="710.30" font-size="6.456" text-anchor="end" fill="#1c1c1c">-1.0A</text>
<text class="t" id="t90" x="376.40" y="723.40" font-size="6.725" fill="#1c1c1c">Set time base for 50/100 ns/cm</text>
<text class="t" id="t91" x="210.80" y="742.20" font-size="7.514" fill="#1c1c1c" style="white-space:pre">Fig. 5  Reverse Recovery Time Characteristic and Test Circuit</text>
<text class="t" id="t92" x="290.00" y="794.60" font-size="10.200" fill="#111" textLength="24.3" lengthAdjust="spacingAndGlyphs">2 of 2</text>
<text class="t" id="t93" x="480.20" y="794.70" font-size="12.111" font-weight="bold" fill="#111">www.sunmate.tw</text>
</svg>
</body>
</html>
